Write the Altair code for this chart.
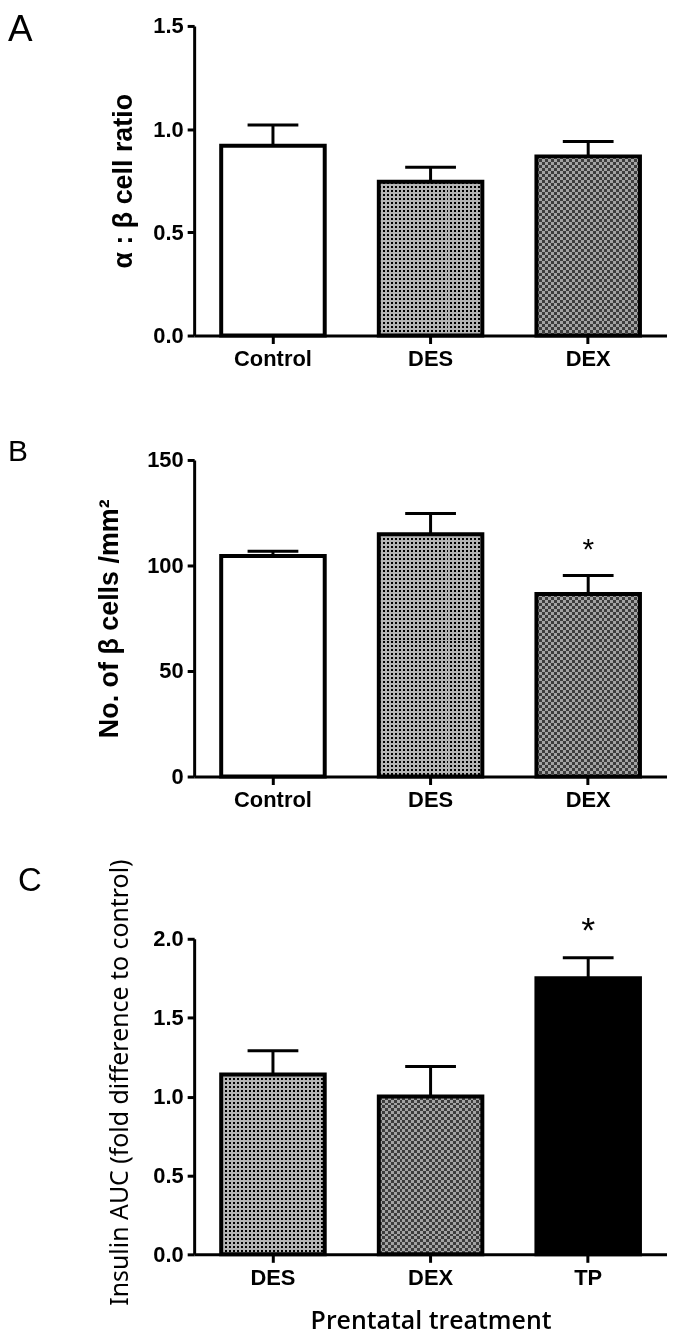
import altair as alt
import pandas as pd

# ---- data ----
a_groups = ["Control", "DES", "DEX"]
a_means = [0.92, 0.745, 0.868]
a_upper = [1.02, 0.815, 0.94]
a_sig = ["", "", ""]

b_groups = ["Control", "DES", "DEX"]
b_means = [104.5, 114.8, 86.5]
b_upper = [106.8, 124.6, 95.3]
b_sig = ["", "", "*"]

c_groups = ["DES", "DEX", "TP"]
c_means = [1.14, 1.0, 1.75]
c_upper = [1.29, 1.19, 1.88]
c_sig = ["", "", "*"]

BOLD = "Liberation Sans"
W = 475
BAR = 104


def stripe_gradient(n, c1, c2, horizontal):
    stops = []
    for i in range(n):
        col = c1 if i % 2 == 0 else c2
        stops.append(alt.GradientStop(color=col, offset=i / n))
        stops.append(alt.GradientStop(color=col, offset=(i + 1) / n))
    if horizontal:
        return alt.LinearGradient(gradient="linear", stops=stops, x1=0, x2=1, y1=0, y2=0)
    return alt.LinearGradient(gradient="linear", stops=stops, x1=0, x2=0, y1=0, y2=1)


def panel(groups, means, upper, sig, ymax, yvals, yfmt, height, ytitle,
          ytitle_font, ytitle_weight, ytitle_size, ytitle_x, ytitle_y,
          letter, letter_font, letter_size, letter_x, letter_y,
          xtitle=None, star_size=30):
    df = pd.DataFrame({"g": groups, "m": means, "u": upper, "s": sig})
    xaxis = alt.Axis(labelAngle=0, labelFont=BOLD, labelFontWeight="bold",
                     labelFontSize=22, labelColor="black", labelPadding=5,
                     domainColor="black", domainWidth=3, tickColor="black",
                     tickWidth=3, tickSize=8, grid=False,
                     titleFont="Open Sans", titleFontSize=25,
                     titleFontWeight=600, titleColor="black", titlePadding=20)
    x = alt.X("g:N", title=xtitle if xtitle else None, axis=xaxis,
              scale=alt.Scale(domain=groups, paddingInner=0, paddingOuter=0))
    yaxis_kwargs = dict(values=yvals, format=yfmt, labelFont=BOLD,
                        labelFontWeight="bold", labelFontSize=22,
                        labelColor="black", labelPadding=4,
                        domainColor="black", domainWidth=3, tickColor="black",
                        tickWidth=3, tickSize=7, grid=False,
                        titleFont=ytitle_font, titleFontWeight=ytitle_weight,
                        titleFontSize=ytitle_size, titleColor="black",
                        titleX=ytitle_x, titleAngle=270, titleBaseline="middle",
                        titleAlign="center")
    if ytitle_y is not None:
        yaxis_kwargs["titleY"] = ytitle_y
    yaxis = alt.Axis(**yaxis_kwargs)
    yscale = alt.Scale(domain=[0, ymax], nice=False, zero=True)
    yenc = alt.Y("m:Q", scale=yscale, axis=yaxis, title=ytitle)

    layers = []
    for g, m in zip(groups, means):
        sub = alt.Chart(df).transform_filter(alt.datum.g == g).encode(x=x, y=yenc)
        h_px = m / ymax * height
        if g == "DEX":
            # coarse checkerboard: dark / light grey squares (~3 px)
            nx = round(BAR / 3)
            ny = max(2, round(h_px / 3))
            layers.append(sub.mark_bar(size=BAR, fill=stripe_gradient(nx, "#ffffff", "#000000", True)))
            layers.append(sub.mark_bar(size=BAR, blend="difference",
                                       fill=stripe_gradient(ny, "#ffffff", "#000000", False)))
            layers.append(sub.mark_bar(size=BAR, fill="#666666", fillOpacity=0.6))
            layers.append(sub.mark_bar(size=BAR, fillOpacity=0, stroke="black", strokeWidth=4))
        elif g == "DES":
            # fine dotted texture: black dots on grey (~2 px)
            nx = round(BAR / 2)
            ny = max(2, round(h_px / 2))
            layers.append(sub.mark_bar(size=BAR, fill=stripe_gradient(nx, "#000000", "#ffffff", True)))
            layers.append(sub.mark_bar(size=BAR, blend="lighten",
                                       fill=stripe_gradient(ny, "#000000", "#ffffff", False)))
            layers.append(sub.mark_bar(size=BAR, fill="#b4b4b4", blend="multiply"))
            layers.append(sub.mark_bar(size=BAR, fillOpacity=0, stroke="black", strokeWidth=4))
        elif g == "TP":
            layers.append(sub.mark_bar(size=BAR, fill="#000000", stroke="black", strokeWidth=4))
        else:
            layers.append(sub.mark_bar(size=BAR, fill="#ffffff", stroke="black", strokeWidth=4))

    base = alt.Chart(df).encode(x=x)
    err = base.mark_rule(strokeWidth=3, color="black", opacity=1).encode(
        y=alt.Y("m:Q", scale=yscale), y2="u:Q")
    cap = base.mark_tick(size=51, thickness=3, color="black", opacity=1,
                         orient="horizontal").encode(y=alt.Y("u:Q", scale=yscale))
    star = base.mark_text(font=BOLD, fontSize=star_size, color="black",
                          baseline="alphabetic", dy=-16).encode(
        y=alt.Y("u:Q", scale=yscale), text="s:N")
    lab = alt.Chart(pd.DataFrame({"t": [letter]})).mark_text(
        align="left", baseline="top", font=letter_font, fontSize=letter_size,
        color="black").encode(x=alt.value(letter_x), y=alt.value(letter_y), text="t:N")
    return alt.layer(*layers, err, cap, star, lab).properties(width=W, height=height)


pa = panel(a_groups, a_means, a_upper, a_sig, 1.5, [0, 0.5, 1.0, 1.5], ".1f", 311,
           "α : β cell ratio", BOLD, "bold", 27, -71, None,
           "A", "Liberation Sans", 37, -187, -14)
pb = panel(b_groups, b_means, b_upper, b_sig, 150, [0, 50, 100, 150], "d", 318,
           "No. of β cells /mm²", BOLD, "bold", 27, -85, None,
           "B", "Liberation Sans", 30, -187, -23)
pc = panel(c_groups, c_means, c_upper, c_sig, 2.0, [0, 0.5, 1.0, 1.5, 2.0], ".1f", 317,
           "Insulin AUC (fold difference to control)", "Noto Sans", "normal", 25,
           -75, 144, "C", "Liberation Sans", 33, -177, -74,
           xtitle="Prentatal treatment", star_size=36)

chart = alt.vconcat(
    pa,
    alt.vconcat(pb, pc, spacing=163, bounds="flush"),
    spacing=125, bounds="flush",
).properties(padding={"left": 0, "top": 0, "right": 0, "bottom": 0}
).configure_view(stroke=None)

chart.save("out.html", embed_options={"renderer": "svg", "actions": False})
